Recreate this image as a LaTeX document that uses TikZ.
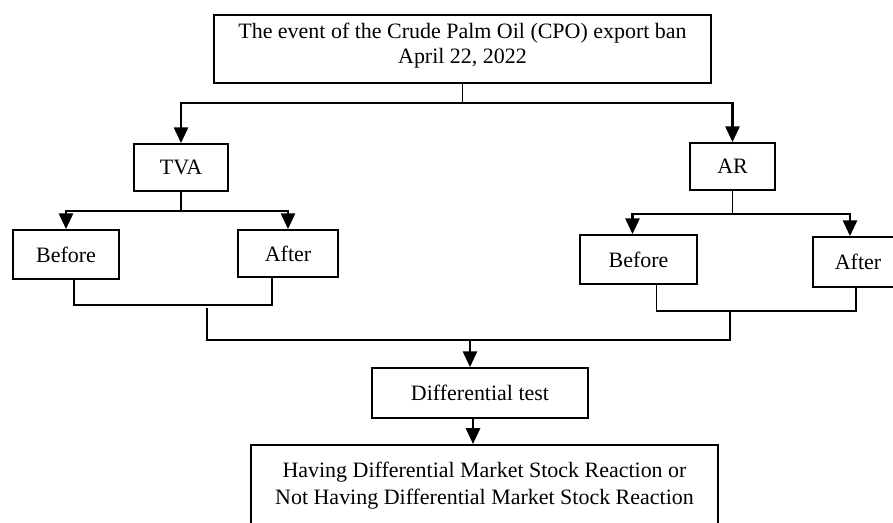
\documentclass[tikz,border=0pt]{standalone}
\usepackage{fontspec}
\setmainfont{Liberation Serif}
\usepackage{tikz}
\usetikzlibrary{arrows.meta, positioning, calc}
\definecolor{mydark}{RGB}{0,0,0}
\tikzset{
  box/.style={rectangle, draw=mydark, fill=white, align=center,
    inner sep=0pt, line width=1pt, font=\fontsize{12.5}{14.5}\selectfont},
  arrow/.style={-{Triangle[length=9pt, width=8pt]}, line width=1.5pt, color=mydark},
  stem/.style={line width=0.6pt, color=mydark},
  bracket/.style={line width=1pt, color=mydark}
}

\begin{document}
\begin{tikzpicture}[x=0.02cm, y=-0.02cm]
  \useasboundingbox (0,0) rectangle (893,522);

  % Event box
  \node[box, minimum width=9.94cm, minimum height=1.36cm] (event) at (462.5,49)
    {The event of the Crude Palm Oil (CPO) export ban\\April 22, 2022\\[-8pt]\mbox{}};

  % Method boxes
  \node[box, minimum width=1.88cm, minimum height=0.94cm] (tva) at (181,167.5) {TVA};
  \node[box, minimum width=1.7cm, minimum height=0.94cm] (ar) at (732.5,166.5) {AR};

  % Before / After boxes
  \node[box, minimum width=2.12cm, minimum height=0.98cm] (tvabef) at (66,254.5) {Before};
  \node[box, minimum width=2cm, minimum height=0.94cm] (tvaaft) at (288,253.5) {After};
  \node[box, minimum width=2.34cm, minimum height=0.98cm] (arbef) at (638.5,259.5) {Before};
  \node[box, minimum width=1.8cm, minimum height=1cm] (araft) at (858,262) {After};

  % Test and result
  \node[box, minimum width=4.32cm, minimum height=1cm] (diff) at (480,393) {Differential test};
  \node[box, anchor=north, minimum width=9.34cm, minimum height=2cm, text depth=1cm,
    inner ysep=0.34cm, font=\fontsize{12.5}{15.5}\selectfont] (result) at (484.5,444)
    {Having Differential Market Stock Reaction or\\Not Having Differential Market Stock Reaction};

  % Split below the event
  \coordinate (evsplit) at (event.south |- 0,103);
  \draw[stem] (event.south) -- (evsplit);
  \draw[arrow] (evsplit) -| (tva.north);
  \draw[arrow] (evsplit) -| (ar.north);

  % Split below TVA
  \coordinate (tvasplit) at (tva.south |- 0,211);
  \draw[stem] (tva.south) -- (tvasplit);
  \draw[arrow] (tvasplit) -| (tvabef.north);
  \draw[arrow] (tvasplit) -| (tvaaft.north);

  % Split below AR
  \coordinate (arsplit) at (ar.south |- 0,214);
  \draw[stem] (ar.south) -- (arsplit);
  \draw[arrow] (arsplit) -| ($(arbef.north)+(-6,0)$);
  \draw[arrow] (arsplit) -| ($(araft.north)+(-8,0)$);

  % Brackets joining before and after
  \draw[bracket] ($(tvabef.south)+(8,0)$) -- ++(0,25) -| ($(tvaaft.south)+(-16,0)$);
  \draw[bracket] ($(arbef.south)+(18,0)$) -- ++(0,26) -| ($(araft.south)+(-2,0)$);

  % Bracket joining both methods
  \coordinate (lbrk) at (207,308);
  \coordinate (rbrk) at (730,310);
  \draw[bracket] (lbrk) -- ++(0,32) -| (rbrk);
  \coordinate (merge) at (470,340);
  \draw[arrow] (merge) -- (merge |- diff.north);

  % Test to result
  \coordinate (difftop) at ($(diff.south)+(-7,0)$);
  \draw[arrow] (difftop) -- (difftop |- result.north);
\end{tikzpicture}
\end{document}
